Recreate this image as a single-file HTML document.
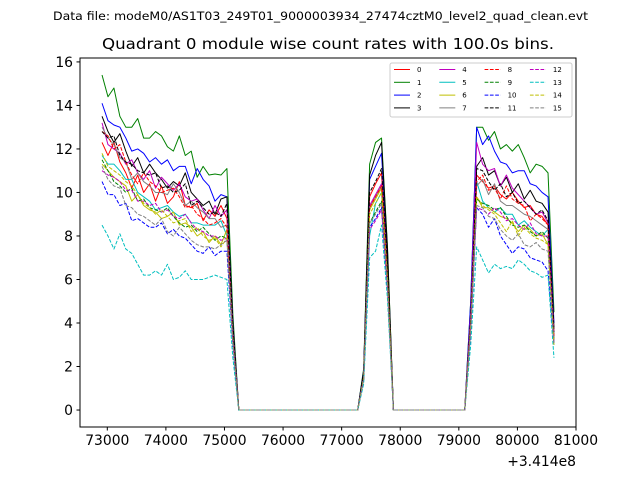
<!DOCTYPE html>
<html><head><meta charset="utf-8"><style>
body{margin:0;background:#fff}
svg{display:block;font-family:"DejaVu Sans","Liberation Sans",sans-serif}
</style></head><body>
<svg id="chart" width="640" height="480" viewBox="0 0 640 480">
<text x="53" y="20" font-size="11.5" textLength="535" lengthAdjust="spacingAndGlyphs">Data file: modeM0/AS1T03_249T01_9000003934_27474cztM0_level2_quad_clean.evt</text>
<text x="102" y="49" font-size="15" textLength="452" lengthAdjust="spacingAndGlyphs">Quadrant 0 module wise count rates with 100.0s bins.</text>
<g id="plot"></g>
<rect x="80" y="58" width="496" height="369" fill="none" stroke="#000" stroke-width="1"/>
<g id="axes"></g>
<text x="576" y="466" font-size="13.9" text-anchor="end">+3.414e8</text>
<g id="legend"></g>
</svg>
<script>
const xTicks=[73000,74000,75000,76000,77000,78000,79000,80000,81000];
const yTicks=[0,2,4,6,8,10,12,14,16];
const seriesNames=["0","1","2","3","4","5","6","7","8","9","10","11","12","13","14","15"];
const colors=["#ff0000","#008000","#0000ff","#000000","#bf00bf","#00bfbf","#bfbf00","#808080","#ff0000","#008000","#0000ff","#000000","#bf00bf","#00bfbf","#bfbf00","#808080"];
const startTime=72910, binSize=101.5, nBins=77;
// segment 1 (bins 0..21)
const seg1=[
[12.3,11.7,12.3,11.4,10.9,10.2,10.8,10.0,10.4,9.6,10.3,9.5,9.8,10.5,9.4,9.3,9.5,8.7,9.2,8.9,9.4,8.8],
[15.4,14.4,14.8,13.5,13.0,13.0,13.4,12.5,12.5,12.8,12.6,12.1,11.9,12.6,11.7,11.9,10.7,11.2,10.8,10.85,10.8,11.1],
[14.1,13.3,13.1,13.0,12.5,11.9,12.0,11.8,11.4,11.6,11.3,11.5,11.0,11.2,11.2,10.4,11.1,10.6,10.3,9.6,9.9,9.8],
[13.5,12.8,12.3,12.7,11.9,11.2,11.6,10.9,11.3,10.9,10.6,10.2,10.5,10.3,10.9,10.0,9.7,9.4,9.6,9.0,9.7,9.8],
[13.2,12.2,12.0,11.8,11.3,11.5,10.9,10.6,11.0,10.2,10.7,10.4,10.1,10.4,9.8,9.6,9.7,9.2,8.8,9.4,8.9,9.2],
[11.7,11.3,11.3,11.0,10.6,10.6,10.0,9.8,9.6,9.2,9.3,9.4,9.1,8.9,9.0,8.6,8.6,8.5,8.5,8.5,8.7,8.0],
[11.3,11.0,10.7,10.5,10.3,9.6,9.9,9.4,9.2,9.1,8.8,8.9,9.1,8.5,8.6,8.4,8.0,8.2,7.7,8.0,7.6,8.3],
[13.0,12.5,12.2,11.6,11.4,10.6,10.9,10.5,10.3,10.0,10.0,9.9,10.4,10.0,9.4,9.6,9.3,9.1,8.8,8.8,8.4,8.5],
[12.8,12.6,12.0,12.2,11.4,10.8,10.4,10.9,10.5,10.3,10.0,10.1,10.2,9.8,9.3,9.4,9.0,8.8,8.5,8.6,8.8,8.4],
[11.5,11.0,10.5,10.3,10.0,10.2,9.6,9.7,9.3,9.2,9.1,9.3,8.9,8.6,8.4,8.5,8.2,8.4,8.1,7.8,8.0,7.9],
[10.5,9.9,9.9,9.4,9.5,8.7,8.8,8.6,8.4,8.4,8.6,8.1,8.3,8.0,7.9,7.6,7.3,7.2,7.5,7.1,7.3,7.3],
[12.8,12.5,12.6,11.7,11.4,11.3,11.0,10.9,10.8,10.9,10.2,10.3,10.0,10.1,10.4,9.4,9.6,9.3,9.0,9.1,8.9,9.5],
[11.0,10.8,10.7,10.5,10.1,10.1,9.6,9.6,9.4,9.5,9.1,9.2,8.9,8.8,9.0,8.6,8.3,8.2,8.0,8.0,7.8,7.9],
[8.5,8.0,7.4,8.1,7.4,7.2,6.7,6.2,6.2,6.4,6.2,6.7,6.0,6.1,6.4,6.0,6.0,6.0,6.1,6.2,6.1,6.0],
[11.8,11.2,11.0,10.8,10.5,10.3,9.9,9.5,9.3,9.0,9.2,8.9,8.6,8.7,8.8,8.2,8.4,8.0,7.8,7.9,7.5,7.9],
[11.2,10.6,10.3,10.2,9.4,9.3,9.0,8.9,8.7,8.5,8.8,8.2,8.0,8.4,8.1,7.8,7.6,7.5,7.5,7.4,7.6,7.8]];
// bin 22 (falling edge)
const edge1=[3.6,4.4,4.0,4.0,3.7,3.3,3.3,3.4,3.4,3.2,3.0,3.8,3.2,2.4,3.2,3.1];
// bins 44..48 (short bump)
const bump=[
[1.6,9.8,10.4,10.9,6.5],[1.9,11.3,12.3,12.5,7.5],[1.8,10.6,11.2,11.8,7.1],[1.8,10.8,11.7,12.3,7.4],
[1.6,9.4,9.9,10.4,6.2],[1.5,8.0,9.5,10.0,6.0],[1.5,9.2,9.7,10.2,6.1],[1.5,9.3,9.8,10.3,6.2],
[1.5,9.3,9.8,10.3,6.2],[1.4,8.6,9.1,9.6,5.8],[1.4,8.4,8.8,9.3,5.6],[1.7,10.0,10.5,11.1,6.7],
[1.4,8.3,8.7,9.2,5.5],[1.2,7.0,7.3,8.5,5.1],[1.5,9.0,9.5,10.0,6.0],[1.4,8.6,9.0,9.5,5.7]];
// bins 62..76 (last segment)
const seg3=[
[4.0,10.8,10.5,10.2,10.3,9.9,9.7,10.0,9.6,9.3,9.4,9.0,8.9,8.5,3.5],
[5.0,13.0,13.0,12.4,12.8,12.0,12.2,11.9,12.2,11.6,10.9,11.3,11.2,10.9,4.5],
[5.0,13.0,12.2,12.6,11.9,11.4,11.3,10.9,11.0,11.0,10.4,10.3,10.0,9.8,4.0],
[4.5,11.2,11.6,10.8,11.0,10.3,10.7,10.0,10.4,9.7,10.1,9.6,9.5,9.1,3.8],
[4.5,12.3,11.3,11.0,11.1,10.3,10.8,10.2,9.9,9.6,9.3,9.0,9.1,8.6,3.5],
[4.0,10.5,9.6,9.3,9.1,9.3,9.0,9.0,8.5,8.7,8.4,8.2,8.0,8.3,3.3],
[4.0,9.8,9.3,9.3,9.1,8.9,8.8,8.6,8.2,8.5,8.3,8.0,8.1,7.6,3.2],
[4.0,10.3,10.6,9.9,10.4,9.6,9.4,9.4,9.2,9.0,8.9,8.7,8.5,8.3,3.4],
[4.0,10.5,10.8,10.1,10.2,9.7,10.3,9.7,9.5,9.4,8.7,9.0,8.8,8.5,3.4],
[3.8,9.7,9.5,9.4,9.2,9.3,8.9,8.5,8.4,8.5,8.2,8.0,8.2,7.9,3.1],
[3.6,9.3,9.0,8.4,8.8,8.0,7.6,7.2,7.5,7.4,7.0,6.9,6.8,6.4,3.0],
[4.2,11.1,11.0,10.5,10.1,10.4,9.8,10.0,9.5,9.6,9.3,9.0,9.2,8.7,3.6],
[3.8,9.3,9.2,9.0,9.3,9.1,8.7,8.8,8.5,8.3,8.6,8.1,8.0,8.0,3.1],
[3.0,7.5,6.9,6.3,6.7,6.5,6.6,6.5,6.9,6.7,6.4,6.3,6.1,6.2,2.4],
[3.9,9.8,9.4,9.2,9.0,8.6,8.2,8.7,8.0,8.4,8.1,7.9,7.8,7.6,3.0],
[3.7,9.4,9.3,8.9,8.8,8.3,8.0,7.8,8.1,7.6,7.5,7.7,7.4,7.3,3.0]];

const NS="http://www.w3.org/2000/svg";
const X0=72534,X1=81000,Y0=-0.78,Y1=16.18;
const L=80,R=576,T=58,B=427;
function xs(v){return L+(v-X0)/(X1-X0)*(R-L);}
function ys(v){return B-(v-Y0)/(Y1-Y0)*(B-T);}
function mk(tag,attrs,parent){const e=document.createElementNS(NS,tag);for(const k in attrs)e.setAttribute(k,attrs[k]);parent.appendChild(e);return e;}
function series(k){
  const v=[];
  for(let i=0;i<nBins;i++){
    if(i<22)v.push(seg1[k][i]);
    else if(i===22)v.push(edge1[k]);
    else if(i>=44&&i<=48)v.push(bump[k][i-44]);
    else if(i>=62)v.push(seg3[k][i-62]);
    else v.push(0);
  }
  return v;
}
const plot=document.getElementById('plot');
for(let k=0;k<16;k++){
  const v=series(k);
  let d="";
  v.forEach((y,i)=>{d+=(i?"L":"M")+xs(startTime+i*binSize).toFixed(2)+","+ys(y).toFixed(2);});
  const p=mk('path',{d:d,fill:"none",stroke:colors[k],"stroke-width":1,"stroke-linejoin":"round"},plot);
  if(k>=8)p.setAttribute('stroke-dasharray','3.7,1.6');
  
  
}
const axes=document.getElementById('axes');
xTicks.forEach(t=>{
  const x=xs(t);
  const l=mk('line',{x1:x,x2:x,y1:B,y2:B+3.5,stroke:"#000"},axes);
  
  
  const tx=mk('text',{x:x,y:B+18,"font-size":13.9,"text-anchor":"middle"},axes);
  tx.textContent=t;
  
  
});
yTicks.forEach(t=>{
  const y=ys(t);
  const l=mk('line',{x1:L-3.5,x2:L,y1:y,y2:y,stroke:"#000"},axes);
  
  
  const tx=mk('text',{x:L-7,y:y+5,"font-size":13.9,"text-anchor":"end"},axes);
  tx.textContent=t;
  
  
});
const lg=document.getElementById('legend');
const box=mk('rect',{x:390,y:63,width:182,height:54,rx:2,fill:"#fff","fill-opacity":0.8,stroke:"#ccc","stroke-width":1},lg);


for(let k=0;k<16;k++){
  const col=Math.floor(k/4),row=k%4;
  const x=394+col*45.3,y=69.5+row*12.8;
  const ln=mk('line',{x1:x,x2:x+16,y1:y,y2:y,stroke:colors[k],"stroke-width":1},lg);
  if(k>=8)ln.setAttribute('stroke-dasharray','3.7,1.6');
  
  
  const tx=mk('text',{x:x+23,y:y+2.5,"font-size":7},lg);
  tx.textContent=seriesNames[k];
  
  
}
</script>
</body></html>
